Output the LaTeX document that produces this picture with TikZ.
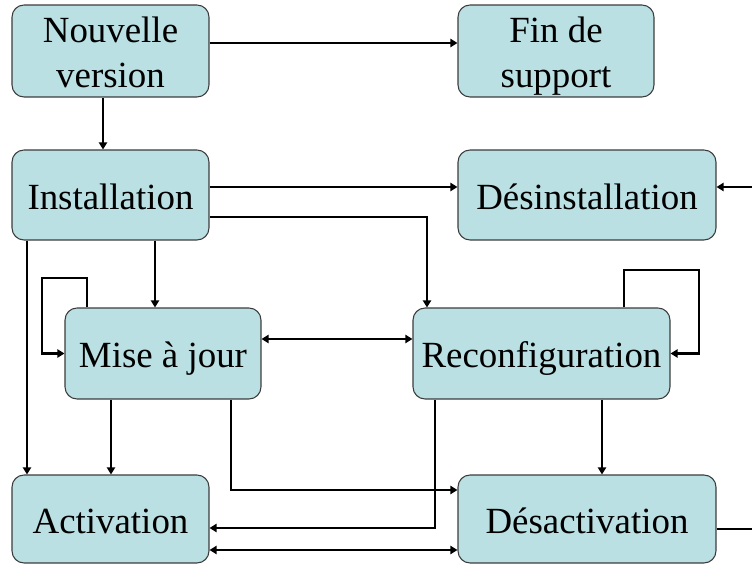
\documentclass[tikz,border=0pt]{standalone}
\usepackage{fontspec}
\setmainfont{Liberation Serif}
\usetikzlibrary{arrows.meta}
\definecolor{bleuboite}{RGB}{186,224,227}
\definecolor{bordboite}{RGB}{60,60,60}
\tikzset{
  boite/.style={draw=bordboite,line width=0.6pt,fill=bleuboite,rounded corners=0.24cm,
    align=center,inner sep=0pt,font=\fontsize{21}{26}\selectfont},
  uneligne/.style={text height=16.5pt,text depth=0pt},
  deuxlignes/.style={text height=42.8pt,text depth=0.8pt},
  fleche/.style={line width=1.5pt,-{Triangle[length=4pt,width=4.6pt]}},
  fleches/.style={line width=1.5pt,{Triangle[length=4pt,width=4.6pt]}-{Triangle[length=4pt,width=4.6pt]}}
}
\begin{document}
\begin{tikzpicture}[x=0.02cm,y=-0.02cm]
 \useasboundingbox (0,0) rectangle (752,564);
 \clip (0,0) rectangle (752,564);
 % les etats
 \node[boite,deuxlignes,minimum width=3.94cm,minimum height=1.84cm] (nouvelle) at (110.5,51) {Nouvelle\\version};
 \node[boite,deuxlignes,minimum width=3.92cm,minimum height=1.84cm] (fin) at (556,51) {Fin de\\support};
 \node[boite,uneligne,minimum width=3.94cm,minimum height=1.80cm] (install) at (110.5,195) {Installation};
 \node[boite,uneligne,minimum width=5.16cm,minimum height=1.80cm] (desinst) at (587,195) {Désinstallation};
 \node[boite,uneligne,minimum width=3.92cm,minimum height=1.82cm] (maj) at (163,353.5) {Mise à jour};
 \node[boite,uneligne,minimum width=5.14cm,minimum height=1.82cm] (reconf) at (541.5,353.5) {Reconfiguration};
 \node[boite,uneligne,minimum width=3.94cm,minimum height=1.76cm] (activ) at (110.5,519) {Activation};
 \node[boite,uneligne,minimum width=5.16cm,minimum height=1.76cm] (desactiv) at (587,519) {Désactivation};
 % points de passage
 \coordinate (nf) at (0,43);
 \coordinate (nv) at (103,0);
 \coordinate (id) at (0,187);
 \coordinate (ir) at (427,217);
 \coordinate (im) at (155,0);
 \coordinate (ia) at (27,0);
 \coordinate (m0) at (87,278);
 \coordinate (m1) at (42,278);
 \coordinate (mr) at (0,339);
 \coordinate (ma) at (111,0);
 \coordinate (md) at (231,490);
 \coordinate (ra) at (435,528);
 \coordinate (r0) at (624,270);
 \coordinate (r1) at (699,270);
 \coordinate (rd) at (602,0);
 \coordinate (ad) at (0,550);
 \coordinate (e0) at (0,529);
 \coordinate (e1) at (775,187);
 % les transitions
 \draw[fleche] (nouvelle.east |- nf) -- (fin.west |- nf);
 \draw[fleche] (nouvelle.south -| nv) -- (install.north -| nv);
 \draw[fleche] (install.east |- id) -- (desinst.west |- id);
 \draw[fleche] (install.east |- ir) -| (reconf.north -| ir);
 \draw[fleche] (install.south -| im) -- (maj.north -| im);
 \draw[fleche] (install.south -| ia) -- (activ.north -| ia);
 \draw[fleche] (maj.north -| m0) |- (m1) |- (maj.west);
 \draw[fleches] (maj.east |- mr) -- (reconf.west |- mr);
 \draw[fleche] (maj.south -| ma) -- (activ.north -| ma);
 \draw[fleche] (maj.south -| md) |- (desactiv.west |- md);
 \draw[fleche] (reconf.south -| ra) |- (activ.east |- ra);
 \draw[fleche] (reconf.north -| r0) |- (r1) |- (reconf.east);
 \draw[fleche] (reconf.south -| rd) -- (desactiv.north -| rd);
 \draw[fleches] (activ.east |- ad) -- (desactiv.west |- ad);
 \draw[fleche] (desactiv.east |- e0) -| (e1) -- (desinst.east |- e1);
\end{tikzpicture}
\end{document}
